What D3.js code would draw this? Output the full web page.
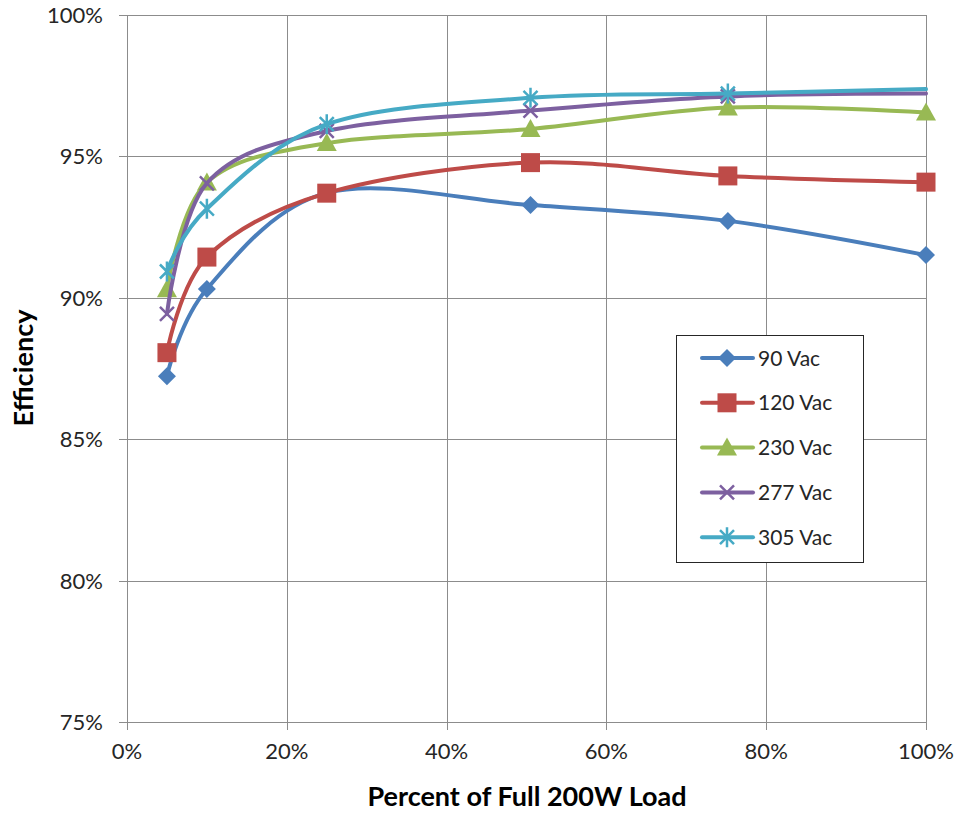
<!DOCTYPE html>
<head>
<meta charset="utf-8">
<style>
body { margin: 0; background: #fff; }
text { font-family: Lato, "Open Sans", sans-serif; fill: #262626; }
.grid line { stroke: #8c8c8c; stroke-width: 1px; }
.series path.line { fill: none; stroke-width: 4px; stroke-linecap: round; }
</style>
<title>Efficiency</title>
</head>
<body>
<script src="https://cdn.jsdelivr.net/npm/d3@7"></script>
<script>

var width = 961,
    height = 813;

var margin = { left: 127, right: 35, top: 15, bottom: 91 };

// load points (% of full 200W load)
var loads = [5, 10, 25, 50.5, 75.2, 100];

var seriesNames = ["90 Vac", "120 Vac", "230 Vac", "277 Vac", "305 Vac"];
var colors = ["#4a7ebb", "#be4b48", "#98b954", "#7d60a0", "#46aac5"];
var markers = ["diamond", "square", "triangle", "cross", "star"];

var eff90  = [87.23, 90.31, 93.71, 93.28, 92.72, 91.51];
var eff120 = [88.06, 91.44, 93.70, 94.78, 94.31, 94.09];
var eff230 = [90.30, 94.08, 95.47, 95.97, 96.73, 96.55];
var eff277 = [89.43, 94.05, 95.90, 96.62, 97.12, 97.22];
var eff305 = [90.93, 93.15, 96.14, 97.07, 97.22, 97.38];
var values = [eff90, eff120, eff230, eff277, eff305];

// the last point of these series has no marker in the original
var noEndMarker = ["277 Vac", "305 Vac"];

var xTicks = [0, 20, 40, 60, 80, 100];
var yTicks = [75, 80, 85, 90, 95, 100];

var x = d3.scaleLinear().domain([0, 100]).range([margin.left, width - margin.right]);
var y = d3.scaleLinear().domain([75, 100]).range([height - margin.bottom, margin.top]);

var svg = d3.select("body").append("svg")
    .attr("width", width)
    .attr("height", height);

// grid
var grid = svg.append("g").attr("class", "grid");
grid.selectAll(".h").data(yTicks).enter().append("line")
    .attr("x1", x(0) - 8).attr("x2", x(100))
    .attr("y1", function(d) { return Math.round(y(d)) + 0.5; })
    .attr("y2", function(d) { return Math.round(y(d)) + 0.5; });
grid.selectAll(".v").data(xTicks).enter().append("line")
    .attr("y1", y(100)).attr("y2", y(75) + 8)
    .attr("x1", function(d) { return Math.round(x(d)) + 0.5; })
    .attr("x2", function(d) { return Math.round(x(d)) + 0.5; });

// tick labels
svg.selectAll(".ylab").data(yTicks).enter().append("text")
    .attr("x", 103)
    .attr("y", function(d) { return y(d); })
    .attr("dy", "0.36em")
    .attr("text-anchor", "end")
    .style("font-size", "22px")
    .text(function(d) { return d + "%"; });

svg.selectAll(".xlab").data(xTicks).enter().append("text")
    .attr("x", function(d) { return x(d); })
    .attr("y", 759)
    .attr("text-anchor", "middle")
    .style("font-size", "22px")
    .text(function(d) { return d + "%"; });

// axis titles
svg.append("text")
    .attr("x", 527).attr("y", 806)
    .attr("text-anchor", "middle")
    .style("font-size", "27px").style("font-weight", "bold")
    .style("fill", "#000")
    .text("Percent of Full 200W Load");

svg.append("text")
    .attr("transform", "translate(33,368)rotate(-90)")
    .attr("text-anchor", "middle")
    .style("font-size", "27px").style("font-weight", "bold")
    .style("fill", "#000")
    .text("Efficiency");

var line = d3.line()
    .x(function(d) { return x(d[0]); })
    .y(function(d) { return y(d[1]); })
    .curve(d3.curveCardinal.tension(0));

function drawMarker(sel, type, color) {
  if (type == "diamond") {
    sel.append("path").attr("d", "M0,-9L9,0L0,9L-9,0Z").attr("fill", color);
  } else if (type == "square") {
    sel.append("rect").attr("x", -9.5).attr("y", -9.5).attr("width", 19).attr("height", 19).attr("fill", color);
  } else if (type == "triangle") {
    sel.append("path").attr("d", "M0,-10L10,8L-10,8Z").attr("fill", color);
  } else if (type == "cross") {
    sel.append("path").attr("d", "M-7,-7L7,7M7,-7L-7,7")
      .attr("stroke", color).attr("stroke-width", 2.5).attr("fill", "none");
  } else {
    sel.append("path").attr("d", "M-7,-7L7,7M7,-7L-7,7M0,-10L0,10")
      .attr("stroke", color).attr("stroke-width", 2.5).attr("fill", "none");
  }
}

var series = seriesNames.map(function(name, i) {
  return { name: name, color: colors[i], marker: markers[i],
           points: loads.map(function(l, j) { return [l, values[i][j]]; }) };
});

var g = svg.selectAll(".series").data(series).enter().append("g").attr("class", "series");

g.append("path")
    .attr("class", "line")
    .attr("stroke", function(d) { return d.color; })
    .attr("d", function(d) { return line(d.points); });

g.each(function(s) {
  var pts = noEndMarker.indexOf(s.name) >= 0 ? s.points.slice(0, -1) : s.points;
  d3.select(this).selectAll(".m").data(pts).enter().append("g")
    .attr("transform", function(d) { return "translate(" + x(d[0]) + "," + y(d[1]) + ")"; })
    .each(function() { drawMarker(d3.select(this), s.marker, s.color); });
});

// legend
var legend = svg.append("g").attr("transform", "translate(676,335)");
legend.append("rect")
    .attr("x", 0.5).attr("y", 0.5).attr("width", 187).attr("height", 227)
    .attr("fill", "#fff").attr("stroke", "#262626").attr("stroke-width", 1);

var item = legend.selectAll(".item").data(series).enter().append("g")
    .attr("transform", function(d, i) { return "translate(0," + (23 + i * 44.8) + ")"; });
item.append("line")
    .attr("x1", 26).attr("x2", 77)
    .attr("stroke", function(d) { return d.color; })
    .attr("stroke-width", 4).attr("stroke-linecap", "round");
item.append("g").attr("transform", "translate(51,0)")
    .each(function(d) { drawMarker(d3.select(this), d.marker, d.color); });
item.append("text")
    .attr("x", 82).attr("dy", "0.36em")
    .style("font-size", "21px")
    .text(function(d) { return d.name; });

</script>
</body>
